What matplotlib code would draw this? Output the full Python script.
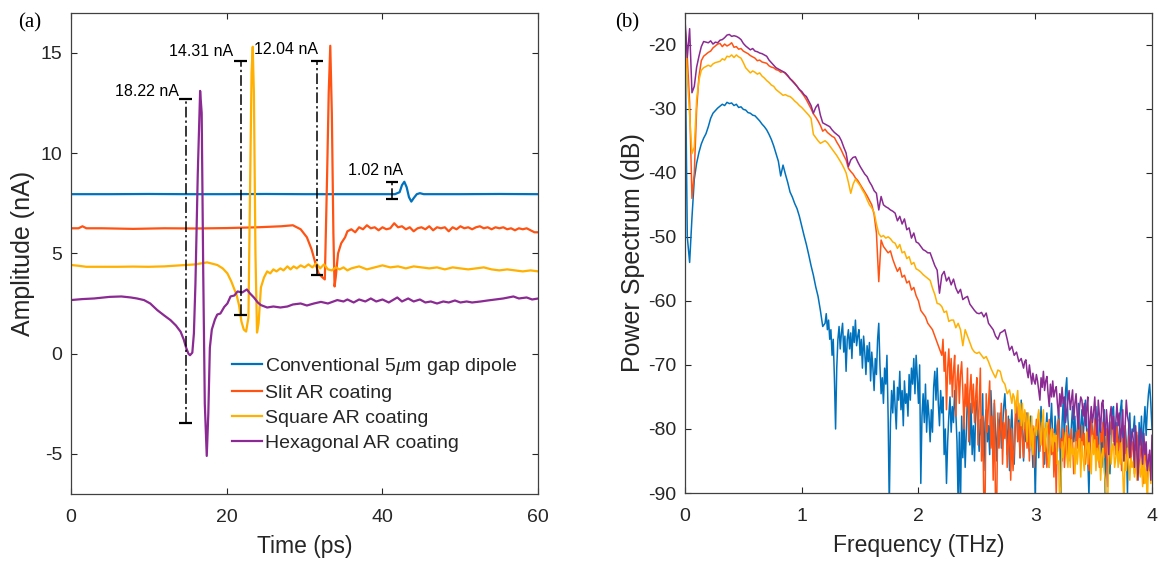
import numpy as np
import matplotlib
matplotlib.use("Agg")
import matplotlib.pyplot as plt

plt.rcParams['font.family'] = ['Liberation Sans', 'DejaVu Sans']
plt.rcParams['mathtext.fontset'] = 'custom'
plt.rcParams['mathtext.it'] = 'Liberation Serif:italic'
plt.rcParams['mathtext.rm'] = 'Liberation Sans'
plt.rcParams['axes.unicode_minus'] = False

# ---------------- Panel (a): time-domain data ----------------
labels = ["Conventional 5$\\mu$m gap dipole", "Slit AR coating",
          "Square AR coating", "Hexagonal AR coating"]
colors = ["#0072BD", "#FF5314", "#FFB000", "#8A2A92"]

t_conv = [0, 5, 10, 15, 20, 25, 30, 35, 40, 41.6, 42.2, 42.5, 42.8, 43.1, 43.4,
          43.7, 44.0, 44.4, 44.8, 45.3, 50, 55, 60]
a_conv = [7.95, 7.95, 7.96, 7.95, 7.95, 7.96, 7.95, 7.95, 7.95, 7.95, 8.05, 8.4,
          8.57, 8.3, 7.8, 7.58, 7.75, 7.95, 8.0, 7.95, 7.95, 7.96, 7.95]

t_slit = [0, 1, 1.5, 2, 4, 8, 12, 16, 20, 24, 27, 28.5, 29.5, 30.3, 30.9, 31.4,
          31.8, 32.3, 32.6, 32.9, 33.1, 33.3, 33.5, 33.7, 33.85, 34.0, 34.3, 34.7,
          35.2, 35.5, 36, 36.5, 37, 37.5, 38, 38.5, 39, 39.5, 40, 40.5, 41, 41.5,
          42, 42.5, 43, 43.5, 44, 44.5, 45, 45.5, 46, 46.5, 47, 47.5, 48, 48.5,
          49, 49.5, 50, 50.5, 51, 51.5, 52, 52.5, 53, 53.5, 54, 54.5, 55, 55.5,
          56, 56.5, 57, 57.5, 58, 58.5, 59, 59.5, 60]
a_slit = [6.25, 6.25, 6.35, 6.25, 6.25, 6.22, 6.25, 6.24, 6.26, 6.3, 6.35, 6.4,
          6.2, 5.8, 5.2, 4.5, 4.0, 3.8, 3.7, 9.0, 13.0, 15.35, 12.0, 6.0, 3.35,
          3.8, 5.0, 5.5, 5.8, 6.1, 6.2, 6.05, 6.3, 6.2, 6.4, 6.25, 6.3, 6.15, 6.3,
          6.2, 6.25, 6.5, 6.3, 6.35, 6.2, 6.3, 6.1, 6.25, 6.3, 6.2, 6.35, 6.15,
          6.3, 6.25, 6.3, 6.1, 6.3, 6.2, 6.35, 6.25, 6.3, 6.2, 6.3, 6.35, 6.25,
          6.3, 6.2, 6.3, 6.25, 6.3, 6.2, 6.25, 6.15, 6.25, 6.2, 6.25, 6.15, 6.05,
          6.05]

t_square = [0, 1, 2, 4, 6, 8, 10, 12, 14, 16, 17.5, 18.8, 19.5, 20.1, 20.6, 20.9,
            21.3, 21.6, 21.9, 22.2, 22.5, 22.8, 23.0, 23.2, 23.35, 23.5, 23.7,
            23.9, 24.1, 24.4, 24.8, 25.2, 25.6, 26.0, 26.4, 26.9, 27.3, 27.8,
            28.2, 28.6, 29.0, 29.5, 30, 30.5, 31, 31.5, 32, 32.5, 33, 33.5, 34,
            34.5, 35, 35.5, 36, 37, 38, 39, 40, 41, 42, 43, 44, 45, 46, 47, 48,
            49, 50, 51, 52, 53, 54, 55, 56, 57, 58, 59, 60]
a_square = [4.42, 4.38, 4.33, 4.33, 4.33, 4.34, 4.33, 4.35, 4.4, 4.45, 4.55, 4.42,
            4.25, 4.0, 3.6, 3.3, 2.9, 2.4, 1.6, 1.2, 1.1, 1.8, 8.0, 14.0, 15.3,
            13.0, 5.0, 1.05, 1.5, 3.3, 3.8, 4.1, 4.0, 4.2, 4.1, 4.25, 4.15, 4.35,
            4.2, 4.35, 4.25, 4.4, 4.3, 4.45, 4.3, 4.5, 4.25, 4.45, 4.2, 4.15, 4.3,
            4.2, 4.3, 4.15, 4.25, 4.35, 4.2, 4.3, 4.4, 4.3, 4.35, 4.25, 4.35, 4.3,
            4.25, 4.3, 4.2, 4.3, 4.25, 4.2, 4.25, 4.3, 4.2, 4.15, 4.2, 4.15, 4.1,
            4.15, 4.1]

t_hex = [0, 1.5, 3, 5, 6.5, 7.7, 8.5, 9.4, 10.2, 11.1, 12, 12.8, 13.5, 14.1, 14.5,
         14.8, 15.1, 15.3, 15.6, 15.8, 16.0, 16.3, 16.6, 16.8, 17.0, 17.2, 17.45,
         17.65, 17.85, 18.1, 18.5, 18.8, 19.2, 19.7, 20.1, 20.5, 21.0, 21.4, 22.0,
         22.6, 23.0, 23.5, 24.0, 24.4, 25.2, 26.0, 26.9, 27.8, 28.5, 29.5, 30.3,
         31.2, 32.1, 33, 34.2, 35, 35.5, 36.3, 37, 37.8, 38.5, 39.2, 40, 40.8,
         41.9, 42.5, 43.3, 44, 44.8, 45.5, 46.2, 47, 47.8, 48.5, 49.3, 50, 50.8,
         51.5, 52.6, 53.5, 54.5, 55.5, 56.8, 57.5, 58.5, 59.2, 60]
a_hex = [2.67, 2.72, 2.75, 2.83, 2.85, 2.8, 2.75, 2.67, 2.5, 2.17, 1.9, 1.67, 1.4,
         1.09, 0.7, 0.3, 0.0, -0.08, 0.05, 1.0, 3.5, 9.0, 13.1, 12.0, 4.0, -2.5,
         -5.1, -3.0, 0.3, 1.2, 1.7, 1.95, 2.0, 2.33, 2.5, 2.85, 2.9, 3.1, 3.05,
         3.2, 3.0, 2.8, 2.55, 2.42, 2.3, 2.35, 2.3, 2.35, 2.45, 2.5, 2.4, 2.5,
         2.58, 2.5, 2.67, 2.6, 2.7, 2.55, 2.7, 2.6, 2.75, 2.6, 2.7, 2.55, 2.8,
         2.6, 2.75, 2.6, 2.7, 2.55, 2.6, 2.5, 2.6, 2.55, 2.65, 2.55, 2.6, 2.55,
         2.6, 2.65, 2.7, 2.75, 2.85, 2.75, 2.8, 2.7, 2.75]

# peak-to-peak annotations
ann_text = ["18.22 nA", "14.31 nA", "12.04 nA", "1.02 nA"]
ann_t = [14.75, 21.8, 31.6, 41.2]
ann_top = [12.7, 14.6, 14.57, 8.57]
ann_bot = [-3.48, 1.92, 3.92, 7.7]
ann_text_x = [13.9, 20.8, 31.7, 35.6]
ann_text_y = [13.05, 15.05, 15.15, 9.12]
ann_ha = ["right", "right", "right", "left"]

# ---------------- Panel (b): spectra ----------------
# coarse part sampled every 0.02 THz from 0, noisy tail every 0.01 THz
conv_lo = [-16, -50, -54, -47, -41, -38.5, -36.8, -35.5, -34.6, -33.9,
           -32.8, -31.5, -30.7, -30.3, -29.9, -29.6, -29.3, -29.5, -29.0, -29.2,
           -29.1, -29.5, -29.3, -29.8, -29.7, -30.1, -30.2, -30.6, -30.7, -31.0,
           -31.1, -31.5, -31.9, -32.4, -32.8, -33.3, -34.0, -34.8, -35.8, -37.0,
           -38.2, -40.5, -38.8, -40.2, -41.5, -43.0, -43.8, -44.8, -45.6, -46.8,
           -48.3, -49.8, -51.2, -52.8, -54.5, -56.0, -57.8, -59.3, -61.5, -64.0]
conv_tail_start = 1.20
conv_tail = [-63.5, -62.0, -64.5, -63.0, -66.0, -64.5, -68.5, -66.0, -72.0, -80.0,
             -70.5, -66.0, -64.0, -67.5, -65.0, -63.5, -68.0, -65.5, -71.0, -66.0,
             -64.5, -67.5, -65.0, -69.0, -64.0, -66.5, -63.0, -67.0, -65.5, -64.5,
             -68.5, -66.0, -70.5, -65.5, -68.0, -71.5, -67.0, -69.5, -66.5, -72.5,
             -68.0, -70.5, -74.0, -69.0, -71.5, -66.0, -63.5, -70.0, -74.5, -72.0,
             -76.0, -70.5, -73.0, -68.5, -78.0, -92.0, -79.0, -74.0, -77.5, -72.5,
             -76.5, -80.0, -73.5, -75.5, -71.0, -77.0, -74.0, -79.5, -72.5, -76.0,
             -74.5, -78.0, -71.5, -75.5, -70.5, -73.0, -69.0, -74.5, -68.5, -72.0,
             -76.0, -70.0, -88.5, -78.0, -74.5, -79.0, -73.0, -80.5, -75.5, -78.0,
             -82.0, -77.0, -80.5, -73.5, -71.0, -75.5, -70.5, -76.0, -79.5, -74.0,
             -77.5, -75.0, -84.0, -80.0, -88.5, -82.0, -78.0, -75.0, -80.5, -76.5,
             -79.0, -74.0, -77.5, -82.0, -92.0, -80.5, -92.0, -78.0, -84.5, -79.0,
             -86.0, -80.5, -74.5, -78.0, -82.5, -76.0, -84.0, -79.5, -85.0, -77.0,
             -75.5, -80.0, -83.5, -78.5, -81.0, -74.5, -86.5, -79.0, -77.0, -82.0,
             -79.5, -84.0, -74.0, -78.5, -82.0, -76.0, -80.5, -85.0, -78.5, -81.0,
             -77.5, -83.0, -80.0, -76.5, -74.5, -79.0, -84.0, -78.0, -86.5, -80.0,
             -77.0, -82.5, -85.5, -79.0, -76.5, -81.5, -78.0, -84.5, -75.5, -80.0,
             -85.0, -79.0, -82.0, -77.5, -80.5, -83.5, -78.0, -81.0, -86.0, -80.0,
             -91.0, -82.0, -78.5, -84.5, -80.0, -76.5, -82.0, -79.0, -85.5, -80.5,
             -77.5, -83.0, -86.0, -79.5, -76.0, -81.5, -84.0, -78.0, -80.5, -83.5,
             -77.0, -80.5, -90.0, -79.0, -75.5, -82.0, -74.0, -72.0, -78.5, -81.0,
             -85.0, -79.5, -76.5, -82.0, -78.0, -84.0, -80.0, -76.0, -83.0, -79.5,
             -77.0, -81.5, -78.5, -75.5, -80.0, -84.5, -90.5, -82.0, -78.0, -80.5,
             -83.5, -79.0, -76.5, -81.0, -84.0, -78.5, -80.0, -86.0, -79.5, -77.0,
             -91.0, -82.0, -79.0, -84.5, -87.0, -80.0, -77.5, -76.5, -81.0, -83.5,
             -79.0, -84.0, -80.5, -77.0, -75.5, -81.0, -85.0, -79.5, -82.0, -90.0,
             -80.0, -77.5, -83.0, -80.5, -80.4, -78.0, -84.5, -81.0, -86.0, -79.0,
             -82.5, -78.0, -84.0, -79.5, -76.5, -81.0, -77.0, -74.5, -73.0, -76.0,
             -80.0]

slit_lo = [-17, -22, -29, -44, -40, -30, -25, -22.5, -21.8, -21.5,
           -21.2, -21.0, -20.5, -20.2, -19.9, -19.8, -20.3, -19.9, -20.2, -20.0,
           -19.7, -20.4, -20.3, -20.7, -20.6, -21.0, -21.2, -21.4, -21.7, -21.9,
           -22.1, -22.5, -22.4, -22.7, -22.8, -22.9, -23.3, -23.5, -23.6, -23.9,
           -24.0, -24.3, -24.2, -24.5, -24.9, -25.3, -25.6, -26.0, -26.5, -27.0,
           -27.5, -28.0, -28.6, -29.3, -30.0, -30.8, -31.3, -31.9, -32.6, -33.5,
           -33.2, -33.7, -34.0, -34.3, -34.5, -35.2, -35.8, -36.5, -37.3, -38.0,
           -39.3, -39.8, -40.2, -40.8, -41.2, -41.8, -42.4, -43.0, -43.6, -44.3,
           -45.0, -46.5, -49.4, -57.0, -50.5, -51.5, -52.0, -52.5, -52.2, -53.5,
           -54.5, -55.4, -54.8, -56.3, -56.0, -57.2, -56.9, -58.3, -57.9, -59.2,
           -60.0, -61.5, -62.0, -62.5, -63.5, -64.0, -64.5, -65.5, -66.5, -67.5]
slit_tail_start = 2.20
slit_tail = [-68.5, -66.0, -71.0, -68.0, -77.0, -70.5, -67.5, -73.0, -69.0, -75.0,
             -71.0, -68.5, -78.0, -72.5, -70.0, -76.0, -71.5, -69.5, -74.0, -80.0,
             -73.0, -76.5, -70.5, -82.0, -74.0, -71.5, -77.5, -73.0, -79.0, -75.0,
             -72.0, -82.5, -76.0, -70.5, -85.0, -78.0, -92.0, -92.0, -74.5, -80.5,
             -76.0, -72.5, -83.0, -78.0, -88.0, -75.5, -92.0, -92.0, -77.5, -83.0,
             -80.0, -76.0, -85.5, -79.0, -81.5, -77.0, -86.0, -82.5, -78.5, -88.0,
             -80.0, -86.5, -83.0, -77.5, -75.5, -82.0, -79.0, -84.5, -78.0, -81.0,
             -84.5, -80.5, -77.5, -83.0, -79.0, -85.0, -80.0, -82.5, -79.5, -86.0,
             -82.0, -78.5, -80.0, -77.5, -83.5, -81.0, -79.0, -86.0, -80.0, -82.5,
             -86.0, -81.0, -78.5, -83.0, -84.0, -80.0, -87.5, -82.0, -90.5, -79.5,
             -78.5, -83.0, -81.5, -85.0, -80.0, -86.0, -82.5, -79.5, -84.0, -81.0,
             -83.5, -80.0, -82.0, -87.0, -84.0, -80.5, -83.0, -78.5, -81.5, -85.0,
             -79.5, -82.5, -80.7, -85.5, -83.0, -80.0, -86.5, -83.0, -78.5, -81.0,
             -82.0, -78.5, -84.0, -81.0, -83.5, -86.0, -80.5, -82.0, -79.0, -84.5,
             -83.5, -80.0, -89.0, -84.0, -81.5, -79.0, -78.5, -82.0, -80.5, -84.0,
             -79.6, -85.0, -82.0, -80.0, -86.5, -81.5, -83.0, -79.5, -86.5, -84.0,
             -81.0, -83.5, -85.0, -82.0, -83.3, -87.0, -85.5, -80.5, -84.0, -86.5,
             -84.0, -82.0, -86.0, -88.5, -82.5, -85.0, -88.0, -84.0, -86.5, -85.9,
             -86.0]

square_lo = [-18, -25, -31, -37, -36, -28.6, -25.5, -24.0, -23.6, -23.4,
             -23.2, -23.4, -23.0, -22.8, -22.7, -22.6, -22.2, -22.4, -21.8, -21.9,
             -21.6, -22.0, -21.6, -21.9, -22.1, -22.8, -23.6, -24.0, -24.4, -24.1,
             -24.3, -24.6, -24.4, -24.9, -25.2, -25.6, -25.9, -26.3, -26.5, -27.0,
             -27.3, -27.6, -27.9, -27.8, -28.0, -28.1, -28.4, -28.8, -29.1, -29.5,
             -29.8, -30.2, -30.6, -31.0, -31.5, -34.0, -34.5, -35.0, -35.4, -35.2,
             -35.0, -35.3, -35.8, -36.3, -36.8, -37.3, -37.9, -38.5, -39.2, -40.0,
             -41.5, -43.2, -41.8, -41.0, -41.5, -42.0, -42.7, -43.3, -44.2, -45.0,
             -45.5, -46.2, -48.0, -49.5, -50.0, -49.8, -50.2, -50.0, -50.3, -50.8,
             -51.0, -51.8, -51.2, -52.5, -52.3, -53.4, -53.1, -54.3, -54.0, -55.0,
             -55.2, -55.5, -55.9, -56.2, -56.5, -56.8, -58.0, -59.0, -60.4, -60.5,
             -60.9, -61.8, -61.6, -63.2, -63.0, -63.0, -64.2, -63.5, -64.5, -67.0,
             -64.5, -65.5, -66.5, -67.5, -68.0, -68.2, -68.0, -68.5, -69.0, -68.7,
             -69.5, -70.5, -71.3, -72.0, -70.8, -71.0, -72.5, -73.0, -74.5, -73.9]
square_tail_start = 2.80
square_tail = [-76.0, -74.5, -75.0, -77.5, -75.5, -74.0, -78.5, -76.0, -79.5, -76.0,
               -80.0, -77.0, -78.0, -82.0, -77.5, -79.0, -83.0, -78.0, -84.0, -80.5,
               -79.6, -81.0, -78.5, -77.0, -80.0, -82.5, -79.0, -77.0, -83.5, -80.0,
               -79.0, -84.0, -86.0, -81.0, -80.0, -83.5, -80.7, -82.0, -81.0, -85.5,
               -85.0, -92.0, -89.0, -82.0, -84.5, -82.0, -80.5, -84.0, -86.0, -81.5,
               -86.0, -81.7, -84.0, -83.0, -87.0, -82.0, -85.5, -83.0, -81.5, -87.5,
               -82.0, -84.5, -86.5, -83.3, -80.5, -85.5, -82.0, -84.0, -87.0, -81.0,
               -84.0, -81.7, -86.5, -83.0, -85.0, -82.5, -88.0, -84.0, -83.0, -86.5,
               -88.0, -92.0, -92.0, -84.0, -81.0, -85.5, -83.0, -82.2, -86.0, -84.5,
               -82.2, -86.0, -83.5, -85.5, -81.5, -87.0, -92.0, -84.0, -86.5, -83.0,
               -85.0, -88.0, -84.5, -86.0, -85.0, -87.5, -83.5, -88.0, -84.5, -86.0,
               -87.5, -85.0, -89.0, -84.0, -88.5, -86.0, -92.0, -85.5, -84.0, -88.5,
               -84.0]

hex_lo = [-16, -22, -17.5, -27.5, -26.5, -23.5, -21.8, -20.3, -19.5, -19.6,
          -19.7, -19.4, -19.9, -19.6, -19.7, -19.3, -19.2, -18.9, -18.5, -18.4,
          -18.7, -18.6, -18.7, -18.9, -19.2, -19.8, -20.2, -20.5, -20.8, -20.6,
          -21.0, -21.1, -21.3, -21.4, -21.6, -21.8, -22.4, -22.8, -23.2, -23.6,
          -23.8, -24.0, -24.2, -24.4, -24.8, -25.3, -25.7, -26.1, -26.5, -27.0,
          -27.3, -27.8, -28.1, -28.8, -29.5, -30.7, -29.8, -29.3, -31.0, -32.2,
          -32.4, -32.6, -32.8, -33.3, -33.7, -34.0, -34.3, -35.0, -36.0, -36.9,
          -39.0, -38.0, -37.6, -37.5, -38.3, -39.0, -39.6, -40.2, -40.6, -41.4,
          -42.0, -42.8, -43.2, -45.8, -43.7, -45.0, -45.3, -45.5, -45.8, -46.0,
          -46.3, -47.5, -46.8, -48.0, -47.2, -48.9, -48.6, -50.2, -49.4, -50.8,
          -51.0, -51.5, -52.0, -52.2, -52.5, -52.5, -53.5, -54.5, -55.2, -58.8,
          -56.0, -55.4, -56.9, -56.3, -57.5, -56.6, -58.0, -58.8, -58.2, -59.8,
          -59.5, -59.3, -60.5, -61.0, -61.5, -61.9, -62.0, -61.8, -62.5, -61.9,
          -63.5, -64.0, -64.5, -65.5, -66.0, -65.0, -64.8, -64.5, -66.0, -67.7,
          -67.1, -68.5, -68.0, -69.5, -69.0]
hex_tail_start = 2.90
hex_tail = [-70.5, -69.5, -69.2, -71.0, -72.0, -70.0, -71.5, -73.0, -71.3, -72.5,
            -73.0, -71.5, -72.5, -74.0, -75.5, -72.0, -73.5, -71.0, -74.0, -72.5,
            -71.8, -74.5, -76.5, -73.0, -75.0, -72.5, -75.0, -74.0, -73.4, -76.0,
            -78.0, -74.5, -76.5, -73.5, -76.0, -75.0, -79.0, -77.0, -75.5, -74.0,
            -77.0, -75.5, -73.9, -78.5, -76.0, -74.5, -78.0, -80.0, -76.5, -75.0,
            -75.5, -78.0, -76.0, -79.5, -77.0, -75.0, -82.0, -78.5, -76.5, -79.0,
            -77.5, -75.0, -79.0, -81.0, -75.5, -78.0, -80.5, -76.0, -75.5, -79.5,
            -81.0, -77.0, -79.5, -84.0, -78.0, -76.5, -80.0, -78.0, -82.5, -79.0,
            -76.0, -79.5, -77.5, -82.0, -80.0, -77.0, -85.0, -79.5, -75.5, -78.0,
            -79.0, -84.5, -82.0, -80.0, -81.7, -86.0, -79.5, -83.0, -88.0, -82.5,
            -80.0, -83.0, -85.5, -80.7, -84.0, -82.0, -86.5, -85.0, -83.3, -88.0,
            -81.0]


def spectrum_freq(lo, tail_start, tail):
    f_lo = 0.02 * np.arange(len(lo))
    f_hi = tail_start + 0.01 * np.arange(len(tail))
    return np.concatenate([f_lo, f_hi]), np.concatenate([lo, tail])


spectra = [spectrum_freq(conv_lo, conv_tail_start, conv_tail),
           spectrum_freq(slit_lo, slit_tail_start, slit_tail),
           spectrum_freq(square_lo, square_tail_start, square_tail),
           spectrum_freq(hex_lo, hex_tail_start, hex_tail)]

# ---------------- Figure ----------------
fig = plt.figure(figsize=(11.58, 5.61), dpi=100)
axa = fig.add_axes([0.0611, 0.1194, 0.4038, 0.858])
axb = fig.add_axes([0.5915, 0.1212, 0.4033, 0.8562])

TICK_FS = 14
XLAB_FS = 16.5
YLAB_FS = 18
axis_col = "#262626"

for t, a, c, lab in zip([t_conv, t_slit, t_square, t_hex],
                        [a_conv, a_slit, a_square, a_hex], colors, labels):
    axa.plot(t, a, color=c, lw=1.6, label=lab)

# annotations: dash-dot bars with caps
cap_half = 0.8
axa.vlines(ann_t, ann_bot, ann_top, colors="k", linestyles=(0, (7, 2, 1.5, 2)), lw=1.1)
axa.hlines(ann_top, np.array(ann_t) - cap_half, np.array(ann_t) + cap_half, colors="k", lw=1.6)
axa.hlines(ann_bot, np.array(ann_t) - cap_half, np.array(ann_t) + cap_half, colors="k", lw=1.6)
for s, x, y, ha in zip(ann_text, ann_text_x, ann_text_y, ann_ha):
    axa.text(x, y, s, ha=ha, va="center", fontsize=11.5, color="k")

axa.set_xlim(0, 60)
axa.set_ylim(-7, 17)
axa.set_xticks([0, 20, 40, 60])
axa.set_yticks([-5, 0, 5, 10, 15])
axa.set_xlabel("Time (ps)", fontsize=XLAB_FS, color=axis_col, labelpad=6)
axa.set_ylabel("Amplitude (nA)", fontsize=YLAB_FS, color=axis_col, labelpad=4)
leg = axa.legend(loc="upper left", bbox_to_anchor=(0.345, 0.287), frameon=False,
                 fontsize=14, handlelength=1.55, handletextpad=0.15,
                 labelspacing=0.38, borderpad=0, borderaxespad=0)
for txt in leg.get_texts():
    txt.set_color(axis_col)

for (f, p), c in zip(spectra, colors):
    axb.plot(f, p, color=c, lw=1.1)
axb.set_xlim(0, 4)
axb.set_ylim(-90, -15)
axb.set_xticks([0, 1, 2, 3, 4])
axb.set_yticks([-90, -80, -70, -60, -50, -40, -30, -20])
axb.set_xlabel("Frequency (THz)", fontsize=XLAB_FS, color=axis_col, labelpad=6)
axb.set_ylabel("Power Spectrum (dB)", fontsize=YLAB_FS, color=axis_col, labelpad=2)

for ax in (axa, axb):
    ax.tick_params(direction="in", top=True, right=True, length=4, width=0.8,
                   labelsize=TICK_FS, colors=axis_col)
    ax.tick_params(axis="x", pad=11)
    ax.tick_params(axis="y", pad=6)
    for sp in ax.spines.values():
        sp.set_color("#404040")
        sp.set_linewidth(0.9)

fig.text(30 / 1158, 1 - 23 / 561, "(a)", fontsize=15, family="Liberation Serif",
         ha="center", va="center")
fig.text(627 / 1158, 1 - 23 / 561, "(b)", fontsize=15, family="Liberation Serif",
         ha="center", va="center")

fig.savefig("out.png", dpi=100)
